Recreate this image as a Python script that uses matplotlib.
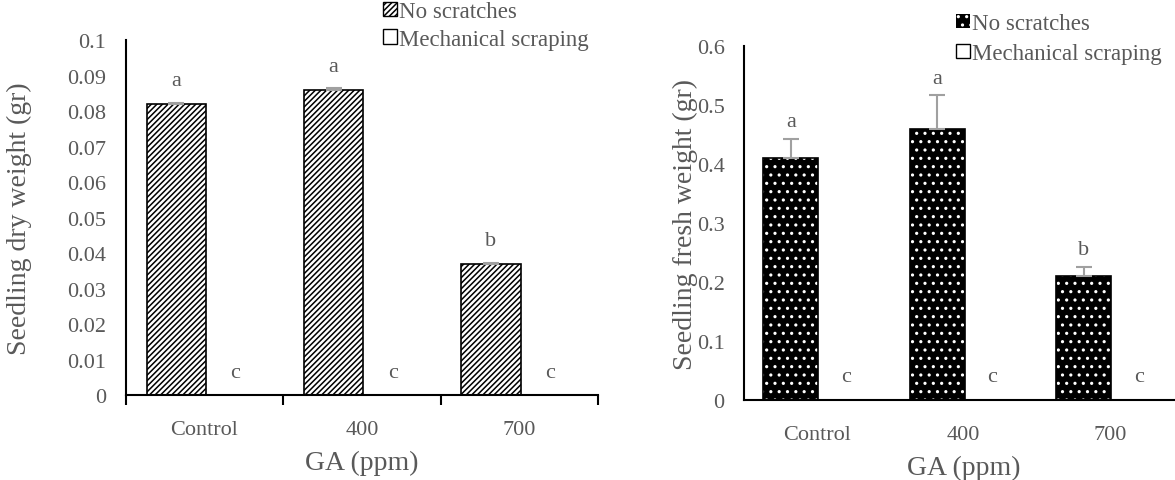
import matplotlib
matplotlib.use("Agg")
import matplotlib.pyplot as plt
from matplotlib.patches import Patch
import numpy as np

plt.rcParams['font.family'] = ['Liberation Serif', 'DejaVu Serif']
plt.rcParams['hatch.linewidth'] = 1.1

# data
groups = ['Control', '400', '700']
dry_no_scratch = [0.082, 0.086, 0.037]
dry_no_scratch_err = [0.0004, 0.0004, 0.0003]
dry_mech = [0.0, 0.0, 0.0]
dry_letters_no = ['a', 'a', 'b']
dry_letters_mech = ['c', 'c', 'c']

fresh_no_scratch = [0.41, 0.46, 0.21]
fresh_no_scratch_err = [0.033, 0.057, 0.016]
fresh_mech = [0.0, 0.0, 0.0]
fresh_letters_no = ['a', 'a', 'b']
fresh_letters_mech = ['c', 'c', 'c']

grey = '#595959'
errc = '#a0a0a0'
tick_fs = 16
lab_fs = 20
leg_fs = 16.5

fig = plt.figure(figsize=(11.75, 4.81), dpi=100)
ax1 = fig.add_axes([0.107, 0.1767, 0.402, 0.738])
ax2 = fig.add_axes([0.6332, 0.1663, 0.3740, 0.736])

x = np.arange(len(groups))
w = 0.375
off1, off2 = -0.18, 0.195


def style_axis(ax, ymax, step, ytick_fmt):
    ax.set_xlim(-0.5, len(groups) - 0.5)
    ax.set_ylim(0, ymax)
    ax.set_yticks(np.arange(0, ymax + step / 2, step))
    ax.set_yticklabels([ytick_fmt(v) for v in np.arange(0, ymax + step / 2, step)])
    ax.set_xticks(x)
    ax.set_xticklabels(groups)
    ax.tick_params(axis='both', length=0, labelsize=tick_fs, colors=grey)
    ax.tick_params(axis='x', pad=18)
    ax.tick_params(axis='y', pad=14)
    for s in ['top', 'right']:
        ax.spines[s].set_visible(False)
    for s in ['left', 'bottom']:
        ax.spines[s].set_linewidth(1.5)
        ax.spines[s].set_color('black')


def fmt(v):
    s = ('%.2f' % v).rstrip('0').rstrip('.')
    return s if s else '0'


# left panel: dry weight
ax1.bar(x + off1, dry_no_scratch, w, color='white', edgecolor='black',
        hatch='//////', linewidth=1.2, zorder=2)
ax1.bar(x + off2, dry_mech, w, color='white', edgecolor='black', linewidth=1.2, zorder=2)
ax1.errorbar(x + off1, dry_no_scratch, yerr=[[0] * 3, dry_no_scratch_err], fmt='none',
             ecolor=errc, elinewidth=1.5, capsize=6, capthick=1.5, zorder=3)
for i in range(len(groups)):
    ax1.annotate(dry_letters_no[i], (x[i] + off1, dry_no_scratch[i] + dry_no_scratch_err[i]),
                 xytext=(0, 16), textcoords='offset points', ha='center', va='center',
                 fontsize=tick_fs, color=grey)
    ax1.annotate(dry_letters_mech[i], (x[i] + off2, dry_mech[i]),
                 xytext=(0, 16), textcoords='offset points', ha='center', va='center',
                 fontsize=tick_fs, color=grey)
style_axis(ax1, 0.1, 0.01, fmt)
ax1.set_xticks([-0.5, 0.5, 1.5, 2.5], minor=True)
ax1.tick_params(axis='x', which='minor', length=7, width=1.5, direction='out', color='black')
ax1.set_ylabel('Seedling dry weight (gr)', fontsize=lab_fs, color=grey)
ax1.yaxis.set_label_coords(-0.199, 0.5)
ax1.set_xlabel('GA (ppm)', fontsize=lab_fs, color=grey, labelpad=8)

h1 = [Patch(facecolor='white', edgecolor='black', hatch='//////', linewidth=1),
      Patch(facecolor='white', edgecolor='black', linewidth=1)]
fig.legend(h1, ['No scratches', 'Mechanical scraping'], loc='upper left',
           bbox_to_anchor=(0.318, 1.015), frameon=False, fontsize=leg_fs,
           handlelength=0.6, handleheight=0.6, handletextpad=0.1,
           labelcolor=grey, labelspacing=0.3, borderaxespad=0)

# right panel: fresh weight
ax2.bar(x + off1, fresh_no_scratch, w, color='black', edgecolor='white',
        hatch='..', linewidth=0, zorder=2)
ax2.bar(x + off1, fresh_no_scratch, w, color='none', edgecolor='black', linewidth=1.2, zorder=2)
ax2.bar(x + off2, fresh_mech, w, color='white', edgecolor='black', linewidth=1.2, zorder=2)
ax2.errorbar(x + off1, fresh_no_scratch, yerr=[[0] * 3, fresh_no_scratch_err], fmt='none',
             ecolor=errc, elinewidth=1.5, capsize=6, capthick=1.5, zorder=3)
for i in range(len(groups)):
    ax2.annotate(fresh_letters_no[i], (x[i] + off1, fresh_no_scratch[i] + fresh_no_scratch_err[i]),
                 xytext=(0, 12), textcoords='offset points', ha='center', va='center',
                 fontsize=tick_fs, color=grey)
    ax2.annotate(fresh_letters_mech[i], (x[i] + off2, fresh_mech[i]),
                 xytext=(0, 17), textcoords='offset points', ha='center', va='center',
                 fontsize=tick_fs, color=grey)
style_axis(ax2, 0.6, 0.1, fmt)
ax2.set_ylabel('Seedling fresh weight (gr)', fontsize=lab_fs, color=grey)
ax2.yaxis.set_label_coords(-0.105, 0.5)
ax2.set_xlabel('GA (ppm)', fontsize=lab_fs, color=grey, labelpad=8)

h2 = [Patch(facecolor='black', edgecolor='white', hatch='..', linewidth=0),
      Patch(facecolor='white', edgecolor='black', linewidth=1)]
fig.legend(h2, ['No scratches', 'Mechanical scraping'], loc='upper left',
           bbox_to_anchor=(0.806, 0.99), frameon=False, fontsize=leg_fs,
           handlelength=0.6, handleheight=0.6, handletextpad=0.1,
           labelcolor=grey, labelspacing=0.4, borderaxespad=0)

fig.savefig('out.png', dpi=100)
